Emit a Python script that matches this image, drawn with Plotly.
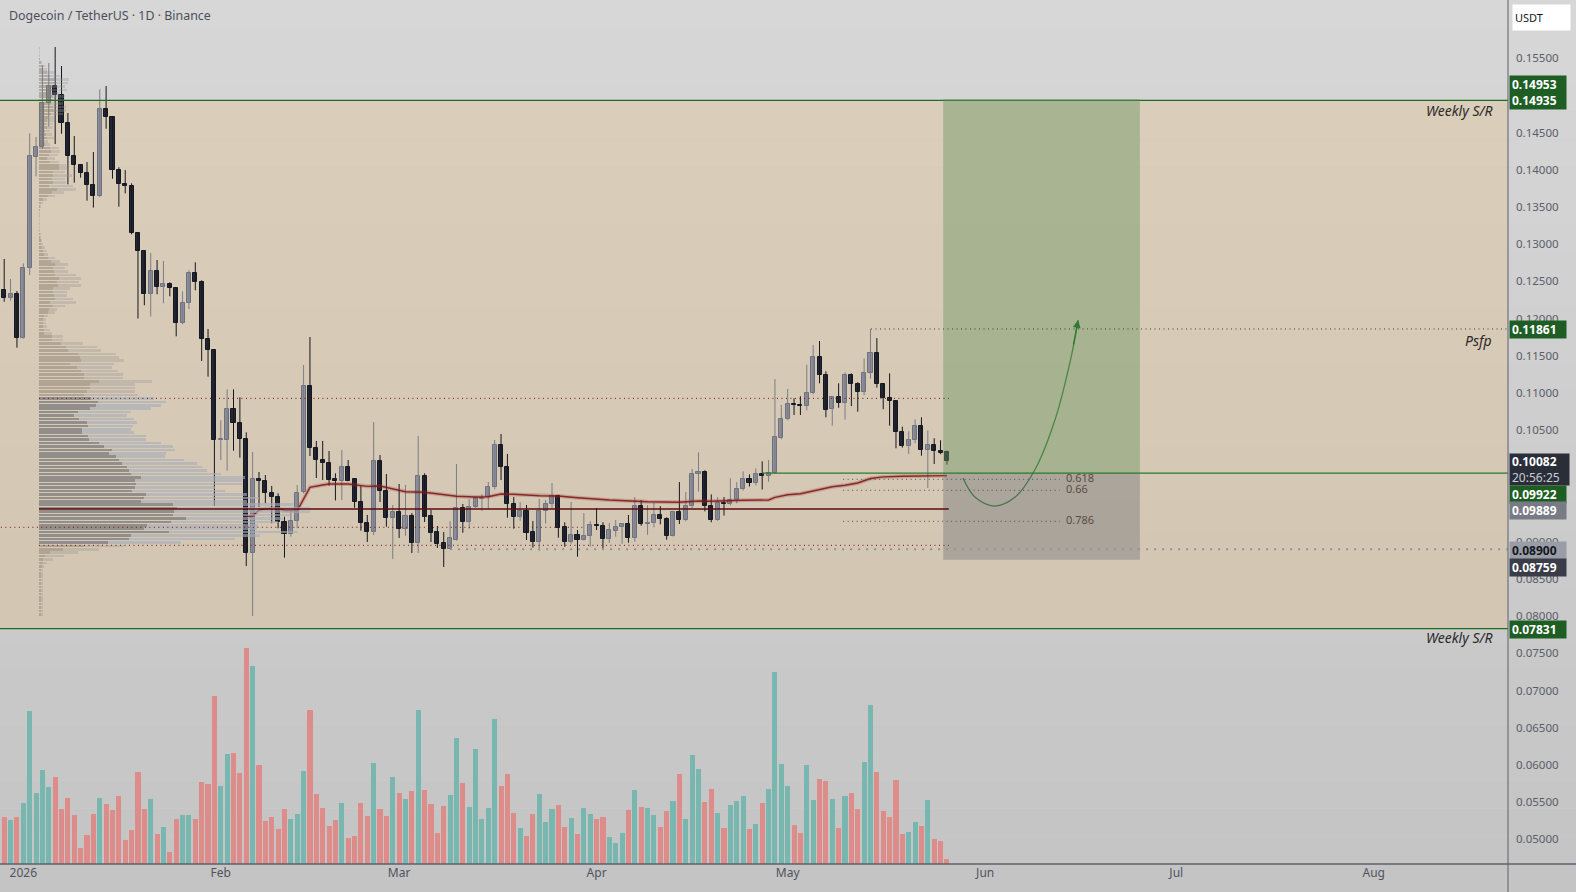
import plotly.graph_objects as go
import pandas as pd

# ---------------- data ----------------
dates = pd.date_range("2025-12-29", periods=149, freq="D")

open_ = [0.12385,0.12273,0.12327,
 0.11735,0.12677,0.14173,0.14307,0.14899,0.15128,0.15007,0.14626,0.14186,0.14062,
 0.13954,0.13792,0.13644,0.14814,0.14707,0.13994,0.13806,0.13779,0.13146,0.12904,
 0.12327,0.12636,0.12421,0.12461,0.12407,0.11937,0.12210,0.12609,0.12488,0.11722,0.11574,
 0.10368,0.10372,0.10781,0.10592,0.10377,0.08843,0.09840,0.09813,0.09651,0.09597,
 0.09262,0.09100,0.09283,0.09665,0.11089,0.10257,0.10095,0.10055,0.09840,0.09821,
 0.10001,0.09840,0.09538,0.09257,0.09127,0.10081,0.09686,0.09323,
 0.09395,0.09175,0.09346,0.08986,0.09884,0.09346,0.09131,0.08978,0.08906,0.09027,
 0.09449,0.09270,0.09463,0.09581,0.09597,0.09732,0.10297,0.10001,0.09511,0.09337,
 0.09409,0.09131,0.09000,0.09409,0.09507,0.09611,0.09194,0.09000,0.09086,0.09027,0.09073,
 0.09225,0.09208,0.09032,0.09140,0.09194,0.09234,0.09046,0.09476,0.09234,0.09248,
 0.09355,0.09302,0.09073,0.09395,0.09288,0.09476,0.09906,0.09933,0.09476,0.09288,
 0.09521,0.09503,0.09557,0.09705,0.09840,0.09786,0.09906,0.09879,0.09925,0.10391,
 0.10646,0.10852,0.10835,0.10821,0.10996,0.11480,0.11238,0.10781,0.10942,0.10861,
 0.11238,0.11117,0.11009,0.11264,0.11534,0.11118,0.10929,0.10888,0.10475,0.10284,
 0.10364,0.10552,0.10230,0.10297,0.10216,0.10202]
high = [0.12802,0.12533,0.12371,
 0.12744,0.14491,0.14442,0.15410,0.15437,0.15652,0.15397,0.14764,0.14455,0.14070,
 0.14106,0.14240,0.15083,0.15127,0.14715,0.14035,0.13998,0.13819,0.13150,0.12923,
 0.12883,0.12788,0.12775,0.12488,0.12421,0.12367,0.12650,0.12757,0.12515,0.11860,0.11592,
 0.10633,0.11049,0.11049,0.10942,0.10471,0.10207,0.09938,0.09897,0.09750,0.09651,
 0.09337,0.09427,0.09763,0.11376,0.11752,0.10355,0.10355,0.10220,0.09920,0.10234,
 0.10099,0.09845,0.09750,0.09360,0.10610,0.10166,0.09911,0.09494,
 0.09776,0.09763,0.09386,0.10422,0.09920,0.09427,0.09211,0.09131,0.09279,0.10045,
 0.09507,0.09575,0.09601,0.09642,0.09803,0.10368,0.10449,0.10180,0.09601,0.09534,
 0.09494,0.09279,0.09575,0.09561,0.09790,0.09632,0.09262,0.09534,0.09158,0.09386,0.09275,
 0.09454,0.09262,0.09252,0.09292,0.09248,0.09360,0.09601,0.09561,0.09494,0.09521,
 0.09480,0.09329,0.09409,0.09803,0.09669,0.09978,0.10202,0.09961,0.09637,0.09601,
 0.09601,0.09853,0.09803,0.09947,0.09906,0.09987,0.10081,0.10099,0.11188,0.10839,
 0.11054,0.10929,0.10956,0.11380,0.11645,0.11699,0.11291,0.10956,0.11130,0.11278,
 0.11264,0.11144,0.11466,0.11861,0.11739,0.11125,0.11264,0.10895,0.10547,0.10485,
 0.10646,0.10673,0.10498,0.10391,0.10364,0.10224]
low = [0.12227,0.12240,0.11609,
 0.11730,0.12587,0.13913,0.14280,0.14580,0.14348,0.14486,0.13806,0.13828,0.13895,
 0.13586,0.13493,0.13631,0.14553,0.13881,0.13505,0.13684,0.13133,0.12001,0.12179,
 0.12029,0.12327,0.12206,0.12300,0.11762,0.11923,0.12129,0.12381,0.11430,0.11219,0.09480,
 0.10099,0.09955,0.10224,0.10130,0.08673,0.08001,0.09470,0.09517,0.09248,0.09181,
 0.08786,0.09068,0.09181,0.09651,0.10153,0.09857,0.09830,0.09753,0.09555,0.09561,
 0.09815,0.09457,0.09148,0.08996,0.09090,0.09534,0.09202,0.08768,
 0.09050,0.09081,0.08848,0.08848,0.09265,0.08996,0.08916,0.08660,0.08900,0.09014,
 0.09121,0.09175,0.09454,0.09413,0.09440,0.09705,0.09830,0.09323,0.09175,0.09283,
 0.09023,0.08920,0.08880,0.09243,0.09454,0.09054,0.08933,0.08973,0.08799,0.09019,0.08933,
 0.09158,0.08906,0.08986,0.09068,0.08973,0.08986,0.09000,0.09215,0.09094,0.09194,
 0.09234,0.09027,0.09070,0.09238,0.09275,0.09449,0.09673,0.09409,0.09262,0.09282,
 0.09352,0.09488,0.09514,0.09689,0.09743,0.09756,0.09702,0.09807,0.09911,0.10377,
 0.10633,0.10704,0.10704,0.10767,0.10982,0.11130,0.10673,0.10560,0.10802,0.10641,
 0.10825,0.10748,0.10969,0.11192,0.11072,0.10781,0.10560,0.10257,0.10265,0.10180,
 0.10324,0.10157,0.09722,0.10045,0.10176,0.10036]
close = [0.12273,0.12327,0.11735,
 0.12677,0.14186,0.14307,0.14899,0.15128,0.15007,0.14626,0.14186,0.14062,0.13954,
 0.13792,0.13644,0.14814,0.14707,0.13994,0.13806,0.13779,0.13146,0.12904,0.12327,
 0.12636,0.12421,0.12461,0.12407,0.11937,0.12210,0.12609,0.12488,0.11722,0.11574,0.10372,
 0.10376,0.10781,0.10592,0.10377,0.08843,0.09840,0.09813,0.09651,0.09597,0.09270,
 0.09100,0.09283,0.09651,0.11089,0.10257,0.10095,0.10055,0.09834,0.09821,0.10001,
 0.09821,0.09538,0.09257,0.09127,0.10081,0.09686,0.09323,0.09395,
 0.09175,0.09346,0.08986,0.09884,0.09337,0.09121,0.08973,0.08906,0.09046,0.09449,
 0.09270,0.09463,0.09588,0.09588,0.09732,0.10297,0.10001,0.09511,0.09337,0.09409,
 0.09121,0.09000,0.09409,0.09507,0.09611,0.09191,0.09000,0.09086,0.09027,0.09073,0.09221,
 0.09217,0.09032,0.09153,0.09194,0.09234,0.09046,0.09476,0.09234,0.09248,0.09355,
 0.09302,0.09073,0.09395,0.09288,0.09476,0.09906,0.09933,0.09476,0.09288,0.09517,
 0.09514,0.09557,0.09705,0.09840,0.09786,0.09906,0.09879,0.09925,0.10404,0.10646,
 0.10848,0.10844,0.10821,0.10996,0.11480,0.11238,0.10767,0.10942,0.10861,0.11238,
 0.11117,0.11009,0.11264,0.11534,0.11127,0.10929,0.10888,0.10475,0.10292,0.10364,
 0.10552,0.10230,0.10297,0.10216,0.10197,0.10082]
volume = [470,440,470,
 610,1530,710,940,770,870,550,660,490,160,290,500,660,600,540,680,240,340,920,550,
 650,300,370,120,450,490,490,450,820,800,1680,
 780,1100,1110,910,2160,1980,990,430,470,350,550,450,500,930,1540,700,560,380,440,610,
 260,280,610,480,1010,550,480,870,
 710,650,730,1540,740,600,310,580,690,1260,810,570,1150,450,560,1450,780,900,510,360,
 280,500,700,420,550,590,370,460,300,560,500,
 450,470,270,210,310,540,740,570,560,490,370,530,630,900,450,1090,950,620,750,510,
 360,590,630,680,350,400,610,750,1920,1000,
 780,390,310,990,640,850,830,650,360,680,710,550,1020,1590,920,530,470,840,300,320,
 420,380,640,250,230,50]

# moving average read points
ma_dates = ["2026-02-05","2026-02-06","2026-02-07","2026-02-08","2026-02-10","2026-02-11",
 "2026-02-13","2026-02-14","2026-02-15","2026-02-17","2026-02-18","2026-02-21","2026-02-24",
 "2026-02-26","2026-02-28","2026-03-02","2026-03-05","2026-03-08","2026-03-10","2026-03-13",
 "2026-03-15","2026-03-17","2026-03-19","2026-03-23","2026-03-26","2026-03-29","2026-04-03",
 "2026-04-09","2026-04-14","2026-04-17","2026-04-19","2026-04-24","2026-04-28","2026-04-29",
 "2026-05-01","2026-05-03","2026-05-05","2026-05-08","2026-05-10","2026-05-12","2026-05-14",
 "2026-05-16","2026-05-19","2026-05-23","2026-05-26"]
ma_vals = [0.09337,0.09346,0.09427,0.09444,0.09449,0.09418,0.09418,0.09584,0.09732,0.09763,
 0.09776,0.09776,0.09745,0.09749,0.09709,0.09673,0.09665,0.09638,0.09611,0.09601,0.09605,
 0.09642,0.09638,0.09619,0.09615,0.09592,0.09561,0.09538,0.09530,0.09548,0.09544,0.09557,
 0.09561,0.09597,0.09632,0.09646,0.09686,0.09740,0.09759,0.09790,0.09850,0.09872,0.09880,
 0.09886,0.09889]

# visible range volume profile (rows from top)
prof_top = 0.15652
prof_step = 0.000461
prof_total = [0.7,0.7,0.7,1,
 2.7,6,7.7,15,21,30,29,26,28,21,
 26,27,24,27,27,24,16,16,14,14,
 11,13,15,9,11,20,21,19,16,20,
 27,29,26,33,26,27,34,37,25,16,
 8,4,2,1,0.5,0.5,0.5,0.5,0.5,0.5,
 2,2,3,4,6,8,9,16,21,29,
 26,29,37,42,40,42,31,28,28,34,
 37,26,18,16,9,7,7,8,11,13,
 24,24,44,58,62,77,80,85,75,73,
 79,84,84,113,96,96,96,99,115,127,
 122,112,92,88,95,98,94,92,95,107,
 107,122,134,136,127,126,145,158,163,168,
 182,206,203,203,176,186,208,220,208,254,
 271,271,251,244,239,219,218,259,221,196,
 142,85,60,39,25,14,8,5,4,4,
 4,4,4,4,4,4,4,4,4,4,4,4]
prof_up = [0.4,0.4,0.4,0.6,
 1.5,3,4,8,11,16,15,13,15,11,
 14,14,12,14,15,12,9,8,7,8,
 6,7,8,5,6,11,12,10,8,11,
 20,20,14,14,13,14,10,18,13,9,
 4,2,1,0.5,0.3,0.3,0.3,0.3,0.3,0.3,
 1,1,2,2,3,4,5,9,12,16,
 14,15,16,20,18,19,14,14,15,16,
 11,14,10,9,5,4,4,4,5,5,
 13,13,22,27,29,39,41,42,31,38,
 42,45,45,60,51,51,48,45,52,59,
 57,51,39,35,40,48,49,43,43,49,
 50,60,65,73,70,77,80,83,88,90,
 92,102,96,97,96,93,107,105,102,134,
 138,135,134,147,132,108,105,130,92,90,
 69,45,24,11,6,4,4,3,2,2,
 2,2,2,2,2,2,2,2,2,2,2,2]
va_high, poc, va_low = 0.10928, 0.09440, 0.08952

sr_top, sr_bot = 0.14935, 0.07831
target, entry, stop = 0.14953, 0.09922, 0.08759
psfp = 0.11861
ma_last = 0.09889
level_0918 = 0.09194
level_089 = 0.08900
fib_levels = [0.09839, 0.09692, 0.09275]
fib_labels = ["0.618", "0.66", "0.786"]
last_price = 0.10082

arrow_dates = ["2026-05-28 12:30","2026-05-30 09:30","2026-06-02 12:00","2026-06-05 17:00",
               "2026-06-08 19:00","2026-06-11 23:00","2026-06-14 09:30","2026-06-15 14:30"]
arrow_prices = [0.09857,0.09601,0.09480,0.09601,0.09965,0.10637,0.11443,0.11981]

month_ticks = ["2026-01-01","2026-02-01","2026-03-01","2026-04-01","2026-05-01",
               "2026-06-01","2026-07-01","2026-08-01"]
month_labels = ["2026","Feb","Mar","Apr","May","Jun","Jul","Aug"]
# price ticks (those fully hidden by the price boxes in the reference are omitted)
price_ticks = [0.05,0.055,0.06,0.065,0.07,0.075,0.08,0.085,0.09,0.105,
               0.11,0.115,0.12,0.125,0.13,0.135,0.14,0.145,0.155]

# ---------------- geometry / style ----------------
W, H = 1576, 892
PW, PH = 1508, 864          # plot area (pixels)
FONT = "Noto Sans"
DAY = 86400000

def yp(px):   # pixel y -> paper
    return (PH - px) / PH
def xp(px):
    return px / PW

fig = go.Figure()

# volume
up_idx = [i for i in range(len(dates)) if close[i] >= open_[i]]
dn_idx = [i for i in range(len(dates)) if close[i] < open_[i]]
for idx, col in ((up_idx, "#77b7b0"), (dn_idx, "#dd8c8a")):
    fig.add_trace(go.Bar(x=[dates[i] for i in idx], y=[volume[i] for i in idx],
                         width=0.8 * DAY, marker=dict(color=col, line=dict(width=0)),
                         yaxis="y2", hoverinfo="skip", showlegend=False))

# candle wicks
for idx, col in ((up_idx, "#7a7d88"), (dn_idx, "#151821")):
    xs, ys = [], []
    for i in idx:
        xs += [dates[i], dates[i], None]
        ys += [low[i], high[i], None]
    fig.add_trace(go.Scatter(x=xs, y=ys, mode="lines", line=dict(color=col, width=1),
                             hoverinfo="skip", showlegend=False))
# candle bodies
for idx, fill, edge in ((up_idx, "#8c8f9a", "#6e717c"), (dn_idx, "#232733", "#151821")):
    fig.add_trace(go.Bar(x=[dates[i] for i in idx],
                         y=[max(abs(close[i] - open_[i]), 0.00002) for i in idx],
                         base=[min(open_[i], close[i]) for i in idx],
                         width=0.64 * DAY,
                         marker=dict(color=fill, line=dict(color=edge, width=1)),
                         hoverinfo="skip", showlegend=False))

# moving average
fig.add_trace(go.Scatter(x=ma_dates, y=ma_vals, mode="lines",
                         line=dict(color="rgba(150,50,50,0.25)", width=4),
                         hoverinfo="skip", showlegend=False))
fig.add_trace(go.Scatter(x=ma_dates, y=ma_vals, mode="lines",
                         line=dict(color="rgba(125,18,18,0.85)", width=1.4),
                         hoverinfo="skip", showlegend=False))

# volume profile
rows_y = [prof_top - (k + 0.5) * prof_step for k in range(len(prof_total))]
in_va = [va_low <= y <= va_high + prof_step * 0.5 for y in rows_y]
dark_cols = ["rgba(105,107,113,0.62)" if v else "rgba(130,120,104,0.45)" for v in in_va]
light_cols = ["rgba(168,174,186,0.62)" if v else "rgba(150,150,150,0.32)" for v in in_va]
fig.add_trace(go.Bar(y=rows_y, x=prof_up, base=[0] * len(rows_y), orientation="h",
                     width=prof_step * 0.72, marker=dict(color=dark_cols, line=dict(width=0)),
                     xaxis="x2", hoverinfo="skip", showlegend=False))
fig.add_trace(go.Bar(y=rows_y, x=[t - u for t, u in zip(prof_total, prof_up)], base=prof_up,
                     orientation="h", width=prof_step * 0.72,
                     marker=dict(color=light_cols, line=dict(width=0)),
                     xaxis="x2", hoverinfo="skip", showlegend=False))

# projected path
fig.add_trace(go.Scatter(x=arrow_dates, y=arrow_prices, mode="lines",
                         line=dict(color="#2f7a2f", width=1.3, shape="spline", smoothing=1.0),
                         hoverinfo="skip", showlegend=False))

shapes = []
# background gradient
N = 32
for i in range(N):
    y0 = i * H / N
    y1 = (i + 1) * H / N
    g = int(round(215 - 19 * ((y0 + y1) / 2) / H))
    shapes.append(dict(type="rect", xref="paper", yref="paper", x0=0, x1=W / PW,
                       y0=yp(y1), y1=yp(y0), line=dict(width=0),
                       fillcolor=f"rgb({g},{g},{g})", layer="below"))
# weekly S/R zone
shapes.append(dict(type="rect", xref="paper", yref="y", x0=0, x1=1, y0=sr_bot, y1=sr_top,
                   line=dict(width=0), fillcolor="rgba(232,188,122,0.30)", layer="below"))

def hline(y, x0, x1, color, width=1, dash="solid", xref="x", layer="above"):
    shapes.append(dict(type="line", xref=xref, yref="y", x0=x0, x1=x1, y0=y, y1=y,
                       line=dict(color=color, width=width, dash=dash), layer=layer))

hline(sr_top, 0, 1, "#1f6b25", 1.2, xref="paper")
hline(sr_bot, 0, 1, "#1f6b25", 1.2, xref="paper")

# position zones
pos_x0, pos_x1 = "2026-05-25 10:00", "2026-06-25 07:00"
shapes.append(dict(type="rect", xref="x", yref="y", x0=pos_x0, x1=pos_x1, y0=entry, y1=target,
                   line=dict(width=0), fillcolor="rgba(108,150,100,0.45)", layer="above"))
shapes.append(dict(type="rect", xref="x", yref="y", x0=pos_x0, x1=pos_x1, y0=stop, y1=entry,
                   line=dict(width=0), fillcolor="rgba(110,112,120,0.40)", layer="above"))

pv_x0, pv_x1 = "2026-01-03 11:00", "2026-05-26 07:00"
hline(va_high, pv_x0, pv_x1, "#6e1212", 1, "1px,3.5px")
hline(va_low, pv_x0, pv_x1, "#6e1212", 1, "1px,3.5px")
hline(poc, pv_x0, pv_x1, "#5c0b0b", 1.6)
hline(level_0918, "2025-12-20", "2026-03-29 19:00", "#6e1212", 1, "1px,3.5px")
hline(level_089, "2026-03-09", "2026-08-30", "#9093a0", 2, "2px,6px")
hline(entry, "2026-04-27", "2026-08-30", "#2a7a2a", 1.2)
hline(psfp, "2026-05-14 02:00", "2026-08-30", "#2d4a2d", 1, "1px,3.5px")
for lv in fib_levels:
    hline(lv, "2026-05-09 17:00", "2026-06-12 17:00", "#5b4c3c", 1, "1px,3.5px")

# axis lines
shapes.append(dict(type="line", xref="paper", yref="paper", x0=1, x1=1, y0=yp(H), y1=1,
                   line=dict(color="#5d606b", width=1), layer="above"))
shapes.append(dict(type="line", xref="paper", yref="paper", x0=0, x1=W / PW, y0=0, y1=0,
                   line=dict(color="#5d606b", width=1.5), layer="above"))

ann = []
ann.append(dict(text="Dogecoin / TetherUS · 1D · Binance", xref="paper", yref="paper",
                x=xp(7), y=yp(16), xanchor="left", yanchor="middle", showarrow=False,
                font=dict(family=FONT, size=12.4, color="#4c4f5a")))
# arrow head
ann.append(dict(x=arrow_dates[-1], y=arrow_prices[-1], xref="x", yref="y", ax=-5, ay=26,
                showarrow=True, arrowhead=2, arrowsize=1.2, arrowwidth=1.3, arrowcolor="#2f7a2f",
                text=""))
# drawing texts
def label(text, xpx, ypx, anchor="right", size=14, italic=True, color="#2b2b2b"):
    t = f"<i>{text}</i>" if italic else text
    ann.append(dict(text=t, xref="paper", yref="paper", x=xp(xpx), y=yp(ypx), xanchor=anchor,
                    yanchor="middle", showarrow=False, font=dict(family=FONT, size=size, color=color)))

label("Weekly S/R", 1494, 111)
label("Weekly S/R", 1494, 637)
label("Psfp", 1494, 340)
for lv, lt in zip(fib_levels, fib_labels):
    ann.append(dict(text=lt, xref="paper", yref="y", x=xp(1064), y=lv, yshift=2,
                    xanchor="left", yanchor="middle", showarrow=False,
                    font=dict(family=FONT, size=11, color="#5b4c3c")))

# price axis boxes
def pbox(text, ycen, bg, fg="#ffffff", h=13, w=52):
    ann.append(dict(text=text, xref="paper", yref="paper", x=xp(1509), y=yp(ycen),
                    xanchor="left", yanchor="middle", showarrow=False, align="left",
                    width=w, height=h, borderpad=2, bgcolor=bg,
                    font=dict(family=FONT, size=12, color=fg)))

pbox(f"<b>{target:.5f}</b><br><b>{sr_top:.5f}</b>", 92.5, "#1e5e24", h=29)
pbox(f"<b>{psfp:.5f}</b>", 329, "#1e5e24")
pbox(f"<b>{last_price:.5f}</b><br><span style='color:#c9ccd4'>20:56:25</span>", 469.5, "#2a2e39", h=27, w=55)
pbox(f"<b>{entry:.5f}</b>", 494, "#1e5e24")
pbox(f"<b>{ma_last:.5f}</b>", 510.5, "#787b86")
pbox(f"<b>{level_089:.5f}</b>", 550, "#9a9da6", fg="#131722")
pbox(f"<b>{stop:.5f}</b>", 567.5, "#3a3d48")
pbox(f"<b>{sr_bot:.5f}</b>", 629.5, "#1e5e24")
ann.append(dict(text="USDT", xref="paper", yref="paper", x=xp(1512), y=yp(17),
                xanchor="left", yanchor="middle", showarrow=False, align="left",
                width=53, height=21, borderpad=2, bgcolor="#ffffff",
                font=dict(family=FONT, size=11, color="#131722")))

fig.update_layout(
    width=W, height=H, margin=dict(l=0, r=W - PW, t=0, b=H - PH),
    paper_bgcolor="#cfcfcf", plot_bgcolor="rgba(0,0,0,0)",
    barmode="overlay", bargap=0, showlegend=False, hovermode=False,
    shapes=shapes, annotations=ann,
    xaxis=dict(type="date", range=["2025-12-28 08:10", "2026-08-22 02:00"],
               showgrid=False, zeroline=False, showline=False, ticks="",
               tickvals=month_ticks, ticktext=month_labels,
               tickfont=dict(family=FONT, size=12, color="#50535e"), fixedrange=True),
    yaxis=dict(side="right", range=[0.04667, 0.16284], showgrid=False, zeroline=False,
               showline=False, ticks="", tickvals=price_ticks,
               ticktext=[f"{v:.5f}" for v in price_ticks], ticklabelstandoff=7,
               tickfont=dict(family=FONT, size=11.5, color="#5a5d68")),
    yaxis2=dict(overlaying="y", range=[0, 8640], visible=False),
    xaxis2=dict(overlaying="x", range=[-39, PW - 39], visible=False),
)

fig.write_html("out.html")
